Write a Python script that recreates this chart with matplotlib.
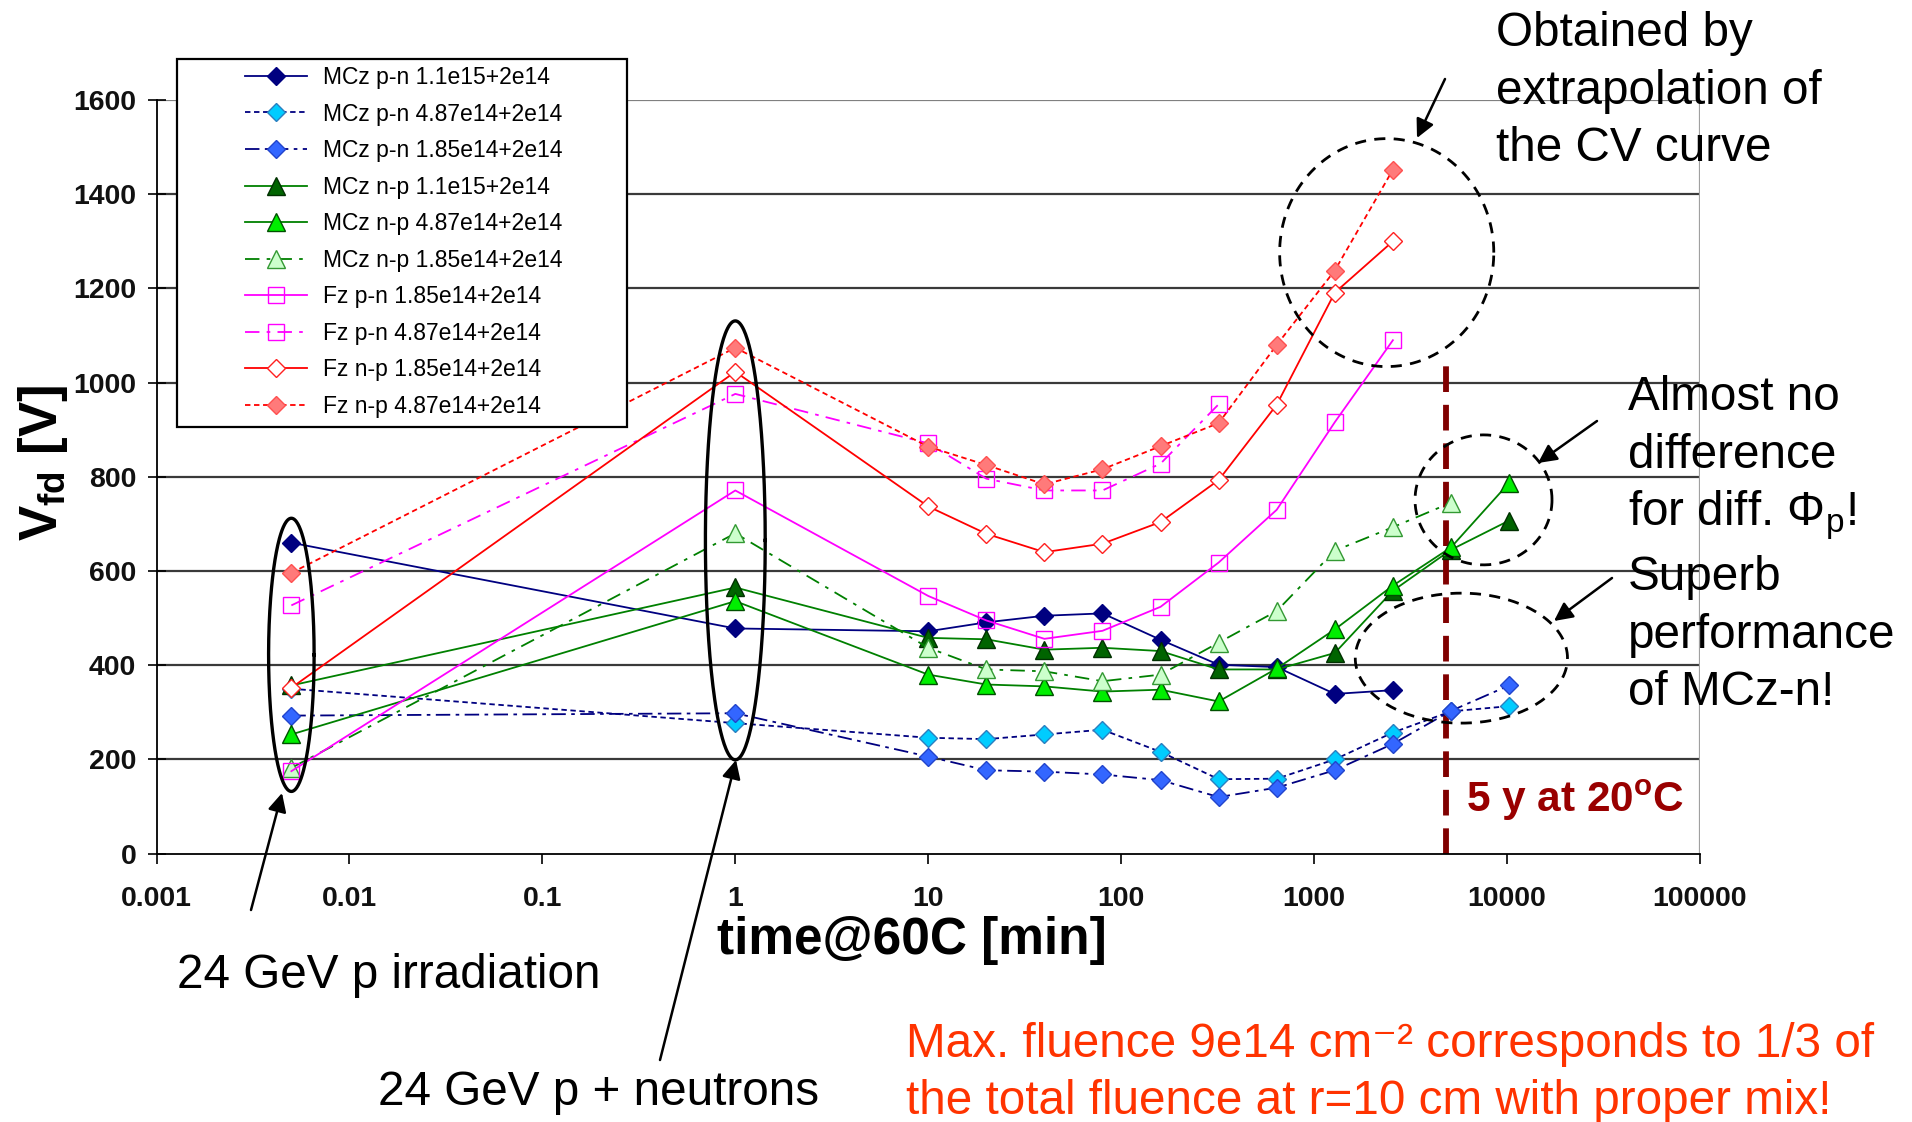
import numpy as np
import matplotlib
matplotlib.use("Agg")
import matplotlib.pyplot as plt
from matplotlib.patches import Rectangle

plt.rcParams['font.family'] = ['Liberation Sans', 'DejaVu Sans']
plt.rcParams['mathtext.fontset'] = 'custom'
plt.rcParams['mathtext.rm'] = 'Liberation Sans'
plt.rcParams['mathtext.it'] = 'Liberation Sans:italic'
plt.rcParams['mathtext.bf'] = 'Liberation Sans:bold'

# ---------------- data ----------------
times = [0.005, 1, 10, 20, 40, 80, 160, 320, 640, 1280, 2560, 5120, 10240]

mcz_pn_110 = [660, 478, 472, 491, 505, 510, 454, 401, 396, 339, 347]
mcz_pn_487 = [350, 277, 246, 243, 253, 263, 216, 158, 159, 200, 257, 302, 313]
mcz_pn_185 = [293, 298, 206, 177, 174, 168, 156, 120, 140, 177, 233, 303, 357]
mcz_np_110 = [357, 565, 458, 455, 433, 437, 430, 391, 391, 426, 558, 645, 707]
mcz_np_487 = [253, 536, 380, 359, 355, 344, 348, 323, 393, 476, 569, 650, 787]
mcz_np_185 = [182, 680, 437, 391, 387, 366, 380, 448, 515, 643, 693, 745]
fz_pn_185 = [175, 771, 547, 495, 456, 473, 524, 618, 730, 916, 1090]
fz_pn_487 = [527, 976, 871, 796, 771, 771, 828, 954]
fz_np_185 = [352, 1023, 737, 679, 640, 658, 704, 793, 953, 1191, 1300]
fz_np_487 = [596, 1074, 864, 825, 784, 816, 865, 914, 1080, 1238, 1452]

labels = ["MCz p-n 1.1e15+2e14", "MCz p-n 4.87e14+2e14", "MCz p-n 1.85e14+2e14",
          "MCz n-p 1.1e15+2e14", "MCz n-p 4.87e14+2e14", "MCz n-p 1.85e14+2e14",
          "Fz p-n 1.85e14+2e14", "Fz p-n 4.87e14+2e14", "Fz n-p 1.85e14+2e14",
          "Fz n-p 4.87e14+2e14"]

xticks = [0.001, 0.01, 0.1, 1, 10, 100, 1000, 10000, 100000]
xticklabels = ["0.001", "0.01", "0.1", "1", "10", "100", "1000", "10000", "100000"]
yticks = [0, 200, 400, 600, 800, 1000, 1200, 1400, 1600]
five_years = 4800

# ---------------- figure ----------------
W, H = 1912, 1122
fig = plt.figure(figsize=(W / 100, H / 100), dpi=100)
fig.patch.set_facecolor('white')


def fx(px):
    return px / W


def fy(py):
    return 1 - py / H


ax = fig.add_axes([fx(156.5), fy(853.6), fx(1700) - fx(156.5), fy(100) - fy(853.6)])
ax.set_xscale('log')
ax.set_xlim(0.001, 100000)
ax.set_ylim(0, 1600)

for yv in yticks[1:]:
    ax.axhline(yv, color='#3a3a3a' if yv < 1600 else '#808080', lw=1.6, zorder=1)
ax.axvline(100000, color='#a0a0a0', lw=1.6, zorder=1)

for s in ['top', 'right']:
    ax.spines[s].set_visible(False)
for s in ['left', 'bottom']:
    ax.spines[s].set_color('black')
    ax.spines[s].set_linewidth(1.3)

ax.set_xticks(xticks)
ax.set_xticklabels(xticklabels)
ax.xaxis.set_minor_locator(matplotlib.ticker.NullLocator())
ax.set_yticks(yticks)
ax.tick_params(axis='x', direction='out', length=7, width=1.2, pad=16, labelsize=20.5)
ax.tick_params(axis='y', direction='inout', length=13, width=1.2, pad=8, labelsize=20.5)
for lab in ax.get_xticklabels() + ax.get_yticklabels():
    lab.set_fontweight('bold')
    lab.set_color('#111111')

lw = 1.3
series = [
    (times[:len(mcz_pn_110)], mcz_pn_110, dict(color='#000080', ls='-', marker='D', ms=9.5, mfc='#000080', mec='#000080')),
    (times[:len(mcz_pn_487)], mcz_pn_487, dict(color='#000080', ls=(0, (3, 2)), marker='D', ms=9.5, mfc='#00CCFF', mec='#2a7fc0')),
    (times[:len(mcz_pn_185)], mcz_pn_185, dict(color='#000080', ls=(0, (8, 3, 2, 3)), marker='D', ms=9.5, mfc='#3366FF', mec='#2244cc')),
    (times[:len(mcz_np_110)], mcz_np_110, dict(color='#008000', ls='-', marker='^', ms=12.5, mfc='#006400', mec='#003000')),
    (times[:len(mcz_np_487)], mcz_np_487, dict(color='#008000', ls='-', marker='^', ms=12.5, mfc='#00EE00', mec='#005000')),
    (times[:len(mcz_np_185)], mcz_np_185, dict(color='#008000', ls=(0, (8, 4, 2, 4)), marker='^', ms=12.5, mfc='#CCFFCC', mec='#339933')),
    (times[:len(fz_pn_185)], fz_pn_185, dict(color='#FF00FF', ls='-', marker='s', ms=12, mfc='none', mec='#FF00FF')),
    (times[:len(fz_pn_487)], fz_pn_487, dict(color='#FF00FF', ls=(0, (8, 4, 2, 4)), marker='s', ms=12, mfc='none', mec='#FF00FF')),
    (times[:len(fz_np_185)], fz_np_185, dict(color='#FF0000', ls='-', marker='D', ms=9.5, mfc='white', mec='#FF2020')),
    (times[:len(fz_np_487)], fz_np_487, dict(color='#FF0000', ls=(0, (3, 2)), marker='D', ms=9.5, mfc='#FF7A7A', mec='#FF5050')),
]
handles = []
for (xs, ys, kw), lab in zip(series, labels):
    h, = ax.plot(xs, ys, lw=lw, mew=1.0, label=lab, zorder=3, **kw)
    handles.append(h)

# 5 years line
ax.plot([five_years, five_years], [0, 1040], color='#800000', lw=4.2,
        ls=(0, (4.4, 2.2)), zorder=2.5)
ax.text(fx(1466), fy(812), '5 y at 20$^\\mathbf{o}$C', transform=fig.transFigure,
        fontsize=30.5, fontweight='bold', color='#990000', va='baseline', ha='left')

# legend
leg = ax.legend(handles=handles, loc='upper left', bbox_to_anchor=(fx(245), fy(66)),
                bbox_transform=fig.transFigure, frameon=False, fontsize=16.5,
                borderaxespad=0, borderpad=0, labelspacing=0.59,
                handlelength=2.7, handletextpad=0.7)
leg.set_zorder(6)
rect = Rectangle((fx(177), fy(427)), fx(627) - fx(177), fy(59) - fy(427),
                 transform=fig.transFigure, facecolor='white', edgecolor='black',
                 lw=1.6, zorder=5, clip_on=False)
ax.add_patch(rect)


# ellipses drawn in log-x space
def ellipse(xc, yc, half_dec, half_v, **kw):
    t = np.linspace(0, 2 * np.pi, 300)
    ax.plot(xc * 10 ** (half_dec * np.cos(t)), yc + half_v * np.sin(t),
            clip_on=False, zorder=4, **kw)


ellipse(0.005, 422, 0.118, 290, color='black', lw=2.4)
ellipse(1.0, 665, 0.155, 466, color='black', lw=2.4)
ellipse(2378, 1276, 0.555, 242, color='black', lw=2.0, ls=(0, (4, 3)))
ellipse(7551, 751, 0.355, 138, color='black', lw=2.0, ls=(0, (4, 3)))
ellipse(5797, 415, 0.55, 138, color='black', lw=2.0, ls=(0, (4, 3)))


def arrow(tail, head, lw=1.8):
    ax.annotate('', xy=(fx(head[0]), fy(head[1])), xycoords='figure fraction',
                xytext=(fx(tail[0]), fy(tail[1])), textcoords='figure fraction',
                arrowprops=dict(arrowstyle='-|>', color='black', lw=lw,
                                mutation_scale=28, shrinkA=0, shrinkB=0),
                annotation_clip=False)


arrow((251, 910), (282, 793))
arrow((660, 1060), (736, 760))
arrow((1445, 79), (1417, 138))
arrow((1597, 421), (1538, 463))
arrow((1612, 578), (1554, 621))

# texts
tk = dict(transform=fig.transFigure, fontsize=34.3, color='black', va='baseline', ha='left')
fig.text(fx(177), fy(988), '24 GeV p irradiation', **tk)
fig.text(fx(378), fy(1105), '24 GeV p + neutrons', **tk)
for i, s in enumerate(['Obtained by', 'extrapolation of', 'the CV curve']):
    fig.text(fx(1496), fy(46 + 57.5 * i), s, **tk)
for i, s in enumerate(['Almost no', 'difference', 'for diff. $\\Phi_{\\mathrm{p}}$!']):
    fig.text(fx(1628), fy(410 + 57.5 * i), s, **tk)
for i, s in enumerate(['Superb', 'performance', 'of MCz-n!']):
    fig.text(fx(1628), fy(590 + 57.5 * i), s, **tk)

rk = dict(transform=fig.transFigure, fontsize=34.3, color='#FF3300', va='baseline', ha='left')
fig.text(fx(906), fy(1057), 'Max. fluence 9e14 cm\u207b\u00b2 corresponds to 1/3 of', **rk)
fig.text(fx(906), fy(1114), 'the total fluence at r=10 cm with proper mix!', **rk)

fig.text(fx(912), fy(954), 'time@60C [min]', transform=fig.transFigure, fontsize=37,
         fontweight='bold', ha='center', va='baseline')
fig.text(fx(43), fy(463), 'V$_{\\mathbf{fd}}$ [V]', transform=fig.transFigure, fontsize=38,
         fontweight='bold', ha='center', va='center', rotation=90)

fig.savefig('out.png', dpi=100, facecolor='white')
